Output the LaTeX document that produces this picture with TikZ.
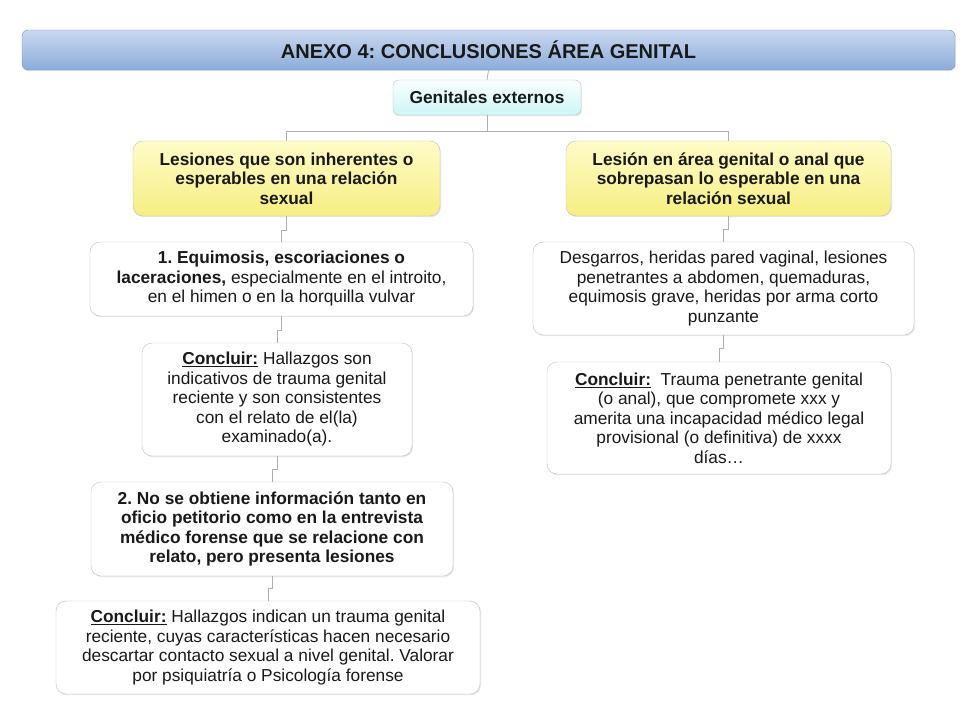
\documentclass[tikz,border=0pt]{standalone}
\usepackage{fontspec}
\setmainfont{Liberation Sans}
\usepackage{tikz}
\usetikzlibrary{positioning,shadows,calc}
\definecolor{cTitleA}{RGB}{202,216,240}
\definecolor{cTitleB}{RGB}{140,172,218}
\definecolor{cCyanA}{RGB}{250,255,255}
\definecolor{cCyanB}{RGB}{205,245,245}
\definecolor{cYelA}{RGB}{255,252,200}
\definecolor{cYelB}{RGB}{246,238,130}
\definecolor{cEdge}{RGB}{190,190,190}
\definecolor{cLine}{RGB}{175,175,175}
\definecolor{cInk}{RGB}{25,25,25}
\frenchspacing

\tikzset{
  box/.style={draw=cEdge, rounded corners=10pt, align=center, text=cInk,
    inner sep=0pt, font=\fontsize{17.3}{19.5}\selectfont,
    drop shadow={shadow xshift=1pt, shadow yshift=-1.2pt, opacity=0.18}},
  plainbox/.style={box, fill=white},
  yelbox/.style={box, top color=cYelA, bottom color=cYelB, font=\fontsize{17.3}{19.5}\selectfont\bfseries},
  conn/.style={draw=cLine, line width=0.8pt},
}
\newcommand{\concl}{\underline{\textbf{Concluir:}}}

\begin{document}
\begin{tikzpicture}[x=1pt, y=-1pt]
  \fill[white] (0,0) rectangle (964,720);
  \useasboundingbox (0,0) rectangle (964,720);
  % title bar
  \node[box, top color=cTitleA, bottom color=cTitleB, draw=cTitleB!85!black,
    minimum width=933pt, minimum height=40pt, rounded corners=6pt,
    font=\fontsize{20}{22}\selectfont\bfseries] (title) at (488.5,50) {ANEXO 4: CONCLUSIONES ÁREA GENITAL};
  % root
  \node[box, top color=cCyanA, bottom color=cCyanB, minimum width=188pt, minimum height=35pt,
    rounded corners=6pt, font=\fontsize{17.3}{19.5}\selectfont\bfseries] (gen) at (487,97.5) {Genitales externos};
  % two branches
  \node[yelbox, minimum width=307pt, minimum height=75pt] (inh) at (286.5,178.5)
    {Lesiones que son inherentes o\\esperables en una relación\\sexual};
  \node[yelbox, minimum width=325pt, minimum height=75pt] (sob) at (728.5,178.5)
    {Lesión en área genital o anal que\\sobrepasan lo esperable en una\\relación sexual};
  % left column
  \node[plainbox, minimum width=383pt, minimum height=74pt] (equ) at (281.5,279)
    {\textbf{1. Equimosis, escoriaciones o}\\\textbf{laceraciones,} especialmente en el introito,\\en el himen o en la horquilla vulvar};
  \node[plainbox, minimum width=270pt, minimum height=113pt] (conA) at (277,399.5)
    {\concl{} Hallazgos son\\indicativos de trauma genital\\reciente y son consistentes\\con el relato de el(la)\\examinado(a).};
  \node[plainbox, minimum width=362pt, minimum height=94pt, font=\fontsize{17.3}{19.5}\selectfont\bfseries] (noinf) at (272,529)
    {2. No se obtiene información tanto en\\oficio petitorio como en la entrevista\\médico forense que se relacione con\\relato, pero presenta lesiones};
  \node[plainbox, minimum width=424pt, minimum height=93pt] (conB) at (268,647.5)
    {\concl{} Hallazgos indican un trauma genital\\reciente, cuyas características hacen necesario\\descartar contacto sexual a nivel genital. Valorar\\por psiquiatría o Psicología forense};
  % right column
  \node[plainbox, minimum width=381pt, minimum height=93pt] (des) at (723.5,288.5)
    {Desgarros, heridas pared vaginal, lesiones\\penetrantes a abdomen, quemaduras,\\equimosis grave, heridas por arma corto\\punzante};
  \node[plainbox, minimum width=344pt, minimum height=112pt] (conC) at (719,418)
    {\concl{}\ \ Trauma penetrante genital\\(o anal), que compromete xxx y\\amerita una incapacidad médico legal\\provisional (o definitiva) de xxxx\\días…};
  % connectors
  \coordinate (hub) at (487,131);
  \draw[conn] (title.south) -- (gen.north);
  \draw[conn] (gen.south) -- (hub);
  \draw[conn] (hub) -| (inh.north);
  \draw[conn] (hub) -| (sob.north);
  \draw[conn] (inh.south) -- ++(0,14) -| (equ.north);
  \draw[conn] (equ.south) -- ++(0,14) -| (conA.north);
  \draw[conn] (conA.south) -- ++(0,13) -| (noinf.north);
  \draw[conn] (noinf.south) -- ++(0,12) -| (conB.north);
  \draw[conn] (sob.south) -- ++(0,13) -| (des.north);
  \draw[conn] (des.south) -- ++(0,13) -| (conC.north);
\end{tikzpicture}
\end{document}
